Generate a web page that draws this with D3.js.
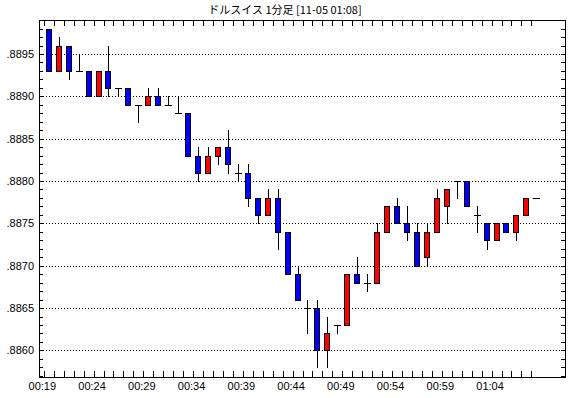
<!DOCTYPE html>
<meta charset="utf-8">

<style type="text/css">
    body { margin: 0; background: #fff; }

    /* thin black lines, kept on the pixel grid */
    .frame { fill: none; stroke: #000; shape-rendering: crispEdges; }
    .tick { stroke: #000; shape-rendering: crispEdges; }
    .grid { stroke: #000; stroke-dasharray: 1, 2; shape-rendering: crispEdges; }
    .wick { stroke: #000; shape-rendering: crispEdges; }
    .body { stroke: #000; shape-rendering: crispEdges; }

    text { font-family: "Liberation Sans", Arial, sans-serif; font-size: 11px; fill: #000; }
    .title { font-family: "Noto Sans CJK JP", sans-serif; font-size: 11px; }
</style>

<body>
</body>

<script type="text/javascript" src="https://d3js.org/d3.v7.min.js"></script>
<script>
    // 1-minute bars, USD/CHF
    var times = ["00:19", "00:20", "00:21", "00:22", "00:23", "00:24", "00:25", "00:26", "00:27", "00:28",
                 "00:29", "00:30", "00:31", "00:32", "00:33", "00:34", "00:35", "00:36", "00:37", "00:38",
                 "00:39", "00:40", "00:41", "00:42", "00:43", "00:44", "00:45", "00:46", "00:47", "00:48",
                 "00:49", "00:50", "00:51", "00:52", "00:53", "00:54", "00:55", "00:56", "00:57", "00:58",
                 "00:59", "01:00", "01:01", "01:02", "01:03", "01:04", "01:05", "01:06", "01:07", "01:08"];

    var open  = [0.8898, 0.8893, 0.8896, 0.8893, 0.8893, 0.8890, 0.8893, 0.8891, 0.8891, 0.8889,
                 0.8889, 0.8890, 0.8889, 0.8888, 0.8888, 0.8883, 0.8881, 0.8883, 0.8884, 0.8881,
                 0.8881, 0.8878, 0.8876, 0.8878, 0.8874, 0.8869, 0.8865, 0.8865, 0.8860, 0.8863,
                 0.8863, 0.8869, 0.8868, 0.8868, 0.8874, 0.8877, 0.8875, 0.8874, 0.8871, 0.8874,
                 0.8877, 0.8880, 0.8880, 0.8876, 0.8875, 0.8873, 0.8875, 0.8874, 0.8876, 0.8878];

    var high  = [0.8898, 0.8897, 0.8896, 0.8895, 0.8893, 0.8893, 0.8896, 0.8891, 0.8891, 0.8889,
                 0.8891, 0.8891, 0.8890, 0.8890, 0.8888, 0.8884, 0.8884, 0.8884, 0.8886, 0.8882,
                 0.8882, 0.8878, 0.8879, 0.8879, 0.8874, 0.8870, 0.8866, 0.8866, 0.8864, 0.8863,
                 0.8869, 0.8871, 0.8869, 0.8875, 0.8877, 0.8878, 0.8877, 0.8875, 0.8875, 0.8879,
                 0.8879, 0.8880, 0.8880, 0.8877, 0.8875, 0.8875, 0.8875, 0.8876, 0.8878, 0.8878];

    var low   = [0.8893, 0.8893, 0.8892, 0.8893, 0.8890, 0.8890, 0.8890, 0.8890, 0.8889, 0.8887,
                 0.8889, 0.8889, 0.8889, 0.8888, 0.8883, 0.8880, 0.8881, 0.8882, 0.8881, 0.8880,
                 0.8877, 0.8875, 0.8876, 0.8872, 0.8869, 0.8866, 0.8862, 0.8858, 0.8858, 0.8862,
                 0.8863, 0.8868, 0.8867, 0.8868, 0.8874, 0.8875, 0.8873, 0.8870, 0.8870, 0.8874,
                 0.8875, 0.8878, 0.8877, 0.8874, 0.8872, 0.8873, 0.8874, 0.8873, 0.8876, 0.8878];

    var close = [0.8893, 0.8896, 0.8893, 0.8893, 0.8890, 0.8893, 0.8891, 0.8891, 0.8889, 0.8889,
                 0.8890, 0.8889, 0.8889, 0.8888, 0.8883, 0.8881, 0.8883, 0.8884, 0.8882, 0.8881,
                 0.8878, 0.8876, 0.8878, 0.8874, 0.8869, 0.8866, 0.8865, 0.8860, 0.8862, 0.8863,
                 0.8869, 0.8868, 0.8868, 0.8874, 0.8877, 0.8875, 0.8874, 0.8870, 0.8874, 0.8878,
                 0.8879, 0.8880, 0.8877, 0.8876, 0.8873, 0.8875, 0.8874, 0.8876, 0.8878, 0.8878];

    var timeLabels = ["00:19", "00:24", "00:29", "00:34", "00:39", "00:44", "00:49", "00:54", "00:59", "01:04"];
    var priceLabels = [0.8860, 0.8865, 0.8870, 0.8875, 0.8880, 0.8885, 0.8890, 0.8895];
    var priceTicks = [0.8857, 0.8858, 0.8859, 0.8860, 0.8861, 0.8862, 0.8863, 0.8864, 0.8865, 0.8866,
                      0.8867, 0.8868, 0.8869, 0.8870, 0.8871, 0.8872, 0.8873, 0.8874, 0.8875, 0.8876,
                      0.8877, 0.8878, 0.8879, 0.8880, 0.8881, 0.8882, 0.8883, 0.8884, 0.8885, 0.8886,
                      0.8887, 0.8888, 0.8889, 0.8890, 0.8891, 0.8892, 0.8893, 0.8894, 0.8895, 0.8896,
                      0.8897, 0.8898, 0.8899];

    var bars = times.map(function (t, i) {
        return { time: t, o: open[i], h: high[i], l: low[i], c: close[i] };
    });

    // plot frame
    var frame = { left: 39, top: 20, right: 565, bottom: 377 };

    // one band per minute, tick marks sit on the band start
    var xScale = d3.scaleBand()
        .domain(times)
        .range([43.8, 541.3])
        .padding(0);

    var yScale = d3.scaleLinear()
        .domain([0.8860, 0.8895])
        .range([350.4, 54]);

    var px = function (v) { return Math.round(v) + 0.5; };
    var cx = function (d) { return Math.round(xScale(d.time) + xScale.bandwidth() / 2); };

    var svg = d3.select("body").append("svg")
        .attr("width", 570)
        .attr("height", 398);

    svg.append("rect")
        .attr("width", 570)
        .attr("height", 398)
        .attr("fill", "#fff");

    // title
    svg.append("text")
        .attr("class", "title")
        .attr("x", 285)
        .attr("y", 14)
        .style("text-anchor", "middle")
        .text("ドルスイス 1分足 [11-05 01:08]");

    // dotted grid on the labelled prices
    svg.selectAll(".grid")
        .data(priceLabels)
        .enter().append("line")
        .attr("class", "grid")
        .attr("x1", frame.left + 1)
        .attr("x2", frame.right)
        .attr("y1", function (d) { return px(yScale(d)); })
        .attr("y2", function (d) { return px(yScale(d)); });

    // price ticks, inside the frame on both sides
    var inFrame = priceTicks.filter(function (d) {
        var y = yScale(d);
        return y > frame.top && y < frame.bottom;
    });

    svg.selectAll(".ltick")
        .data(inFrame)
        .enter().append("line")
        .attr("class", "tick ltick")
        .attr("x1", frame.left)
        .attr("x2", frame.left + 4)
        .attr("y1", function (d) { return px(yScale(d)); })
        .attr("y2", function (d) { return px(yScale(d)); });

    svg.selectAll(".rtick")
        .data(inFrame)
        .enter().append("line")
        .attr("class", "tick rtick")
        .attr("x1", frame.right - 4)
        .attr("x2", frame.right)
        .attr("y1", function (d) { return px(yScale(d)); })
        .attr("y2", function (d) { return px(yScale(d)); });

    var fmt = d3.format(".4f");
    svg.selectAll(".plabel")
        .data(priceLabels)
        .enter().append("text")
        .attr("class", "plabel")
        .attr("x", 34)
        .attr("y", function (d) { return yScale(d); })
        .attr("dy", "0.35em")
        .style("text-anchor", "end")
        .text(function (d) { return fmt(d).replace(/^0/, ""); });

    // minute ticks on top and bottom
    svg.selectAll(".ttick")
        .data(times)
        .enter().append("line")
        .attr("class", "tick ttick")
        .attr("x1", function (d) { return px(xScale(d)); })
        .attr("x2", function (d) { return px(xScale(d)); })
        .attr("y1", frame.top)
        .attr("y2", frame.top + 6);

    svg.selectAll(".btick")
        .data(times)
        .enter().append("line")
        .attr("class", "tick btick")
        .attr("x1", function (d) { return px(xScale(d)); })
        .attr("x2", function (d) { return px(xScale(d)); })
        .attr("y1", frame.bottom - 6)
        .attr("y2", frame.bottom);

    svg.selectAll(".tlabel")
        .data(timeLabels)
        .enter().append("text")
        .attr("class", "tlabel")
        .attr("x", function (d) { return xScale(d) - 1.5; })
        .attr("y", 390)
        .style("text-anchor", "middle")
        .text(function (d) { return d; });

    // candles
    var candle = svg.selectAll(".candle")
        .data(bars)
        .enter().append("g")
        .attr("class", "candle");

    candle.append("line")
        .attr("class", "wick")
        .attr("x1", function (d) { return cx(d) + 0.5; })
        .attr("x2", function (d) { return cx(d) + 0.5; })
        .attr("y1", function (d) { return Math.round(yScale(d.h)); })
        .attr("y2", function (d) { return Math.round(yScale(d.l)) + 1; });

    candle.filter(function (d) { return d.o !== d.c; })
        .append("rect")
        .attr("class", "body")
        .attr("x", function (d) { return cx(d) - 3 + 0.5; })
        .attr("y", function (d) { return Math.round(yScale(Math.max(d.o, d.c))) + 0.5; })
        .attr("width", 5)
        .attr("height", function (d) {
            return Math.round(yScale(Math.min(d.o, d.c))) - Math.round(yScale(Math.max(d.o, d.c)));
        })
        .attr("fill", function (d) { return d.c > d.o ? "#ff0000" : "#0000ff"; });

    candle.filter(function (d) { return d.o === d.c; })
        .append("line")
        .attr("class", "wick")
        .attr("x1", function (d) { return cx(d) - 3; })
        .attr("x2", function (d) { return cx(d) + 4; })
        .attr("y1", function (d) { return px(yScale(d.o)); })
        .attr("y2", function (d) { return px(yScale(d.o)); });

    // frame on top of everything
    svg.append("rect")
        .attr("class", "frame")
        .attr("x", frame.left + 0.5)
        .attr("y", frame.top + 0.5)
        .attr("width", frame.right - frame.left)
        .attr("height", frame.bottom - frame.top);
</script>
